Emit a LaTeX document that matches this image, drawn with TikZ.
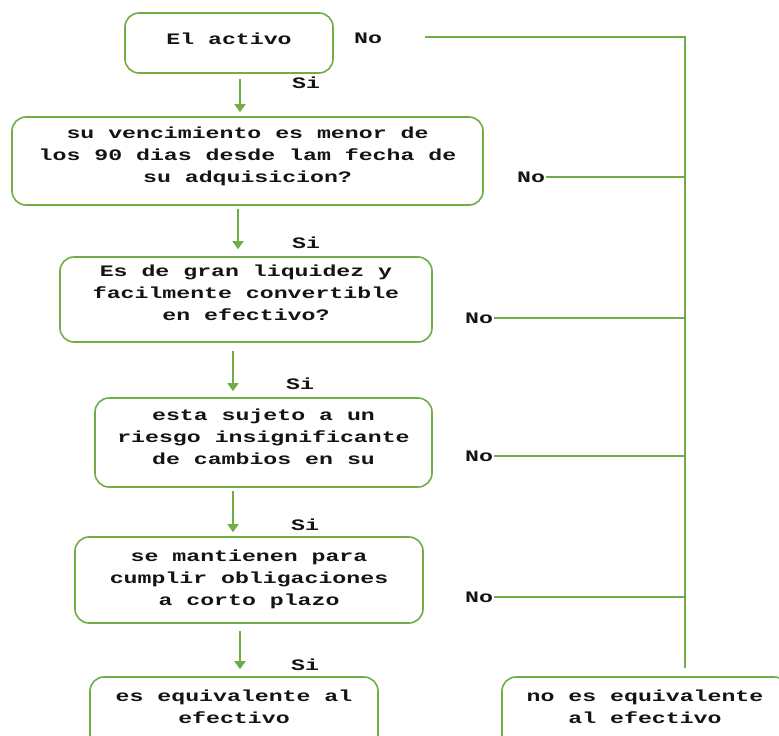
\documentclass[tikz,border=0pt]{standalone}
\usepackage{fontspec}
\newfontfamily\flowfont[FakeStretch=1.45]{Liberation Mono}
\usetikzlibrary{arrows.meta}
\definecolor{lineg}{RGB}{112,173,71}
\definecolor{inkc}{RGB}{20,20,20}

\begin{document}
\begin{tikzpicture}[x=1pt,y=-1pt,
  box/.style={draw=lineg, line width=1.6pt, rounded corners=14pt, align=center,
    font=\flowfont\bfseries\fontsize{16}{22}\selectfont, text=inkc, inner sep=0pt},
  lbl/.style={font=\flowfont\bfseries\fontsize{16}{22}\selectfont, text=inkc, inner sep=0pt},
  link/.style={draw=lineg, line width=1.6pt},
  arr/.style={link, -{Triangle[width=11pt,length=8pt]}}]
\useasboundingbox (0,0) rectangle (779,736);
\begin{scope}
\clip (0,0) rectangle (779,736);

% decision boxes (extra text depth lifts the lines a little)
\node[box, minimum width=208pt, minimum height=60pt, text depth=9pt] (b1) at (229,43) {El activo};
\node[box, minimum width=471pt, minimum height=88pt, text depth=13pt] (b2) at (247.5,161)
  {su vencimiento es menor de\\los 90 dias desde lam fecha de\\su adquisicion?};
\node[box, minimum width=372pt, minimum height=85pt, text depth=13pt] (b3) at (246,299.5)
  {Es de gran liquidez y\\facilmente convertible\\en efectivo?};
\node[box, minimum width=337pt, minimum height=89pt, text depth=12pt] (b4) at (263.5,442.5)
  {esta sujeto a un\\riesgo insignificante\\de cambios en su};
\node[box, minimum width=348pt, minimum height=86pt, text depth=5pt] (b5) at (249,580)
  {se mantienen para\\cumplir obligaciones\\a corto plazo};

% outcome boxes
\node[box, minimum width=288pt, minimum height=82pt] (b6) at (234,718)
  {es equivalente al\\efectivo\\\mbox{}};
\node[box, minimum width=286pt, minimum height=82pt] (b7) at (645,718)
  {no es equivalente\\al efectivo\\\mbox{}};

% "Si" labels
\node[lbl] (si1) at (306,83) {Si};
\node[lbl] (si2) at (306,243) {Si};
\node[lbl] (si3) at (300,384) {Si};
\node[lbl] (si4) at (305,525) {Si};
\node[lbl] (si5) at (305,665) {Si};

% "No" labels
\node[lbl] (no1) at (368,38) {No};
\node[lbl] (no2) at (531,177) {No};
\node[lbl] (no3) at (479,318) {No};
\node[lbl] (no4) at (479,456) {No};
\node[lbl] (no5) at (479,597) {No};

% "Si" arrows
\draw[arr] ([xshift=11pt,yshift=-5pt]b1.south) -- ([xshift=-7.5pt,yshift=4pt]b2.north);
\draw[arr] ([xshift=-9.5pt,yshift=-3pt]b2.south) -- ([xshift=-8pt,yshift=7pt]b3.north);
\draw[arr] ([xshift=-13pt,yshift=-8pt]b3.south) -- ([xshift=-30.5pt,yshift=6pt]b4.north);
\draw[arr] ([xshift=-30.5pt,yshift=-3pt]b4.south) -- ([xshift=-16pt,yshift=4pt]b5.north);
\draw[arr] ([xshift=-9pt,yshift=-7pt]b5.south) -- ([xshift=6pt,yshift=7pt]b6.north);

% "No" collector line
\coordinate (r0) at (425,37);
\coordinate (rc) at (685,37);
\coordinate (rb) at (685,668);
\draw[link] (r0) -- (rc) -- (rb);
\draw[link] ([xshift=1pt]no2.east) -- (no2.east -| rc);
\draw[link] ([xshift=1pt]no3.east) -- (no3.east -| rc);
\draw[link] ([xshift=1pt]no4.east) -- (no4.east -| rc);
\draw[link] ([xshift=1pt]no5.east) -- (no5.east -| rc);
\end{scope}
\end{tikzpicture}
\end{document}
